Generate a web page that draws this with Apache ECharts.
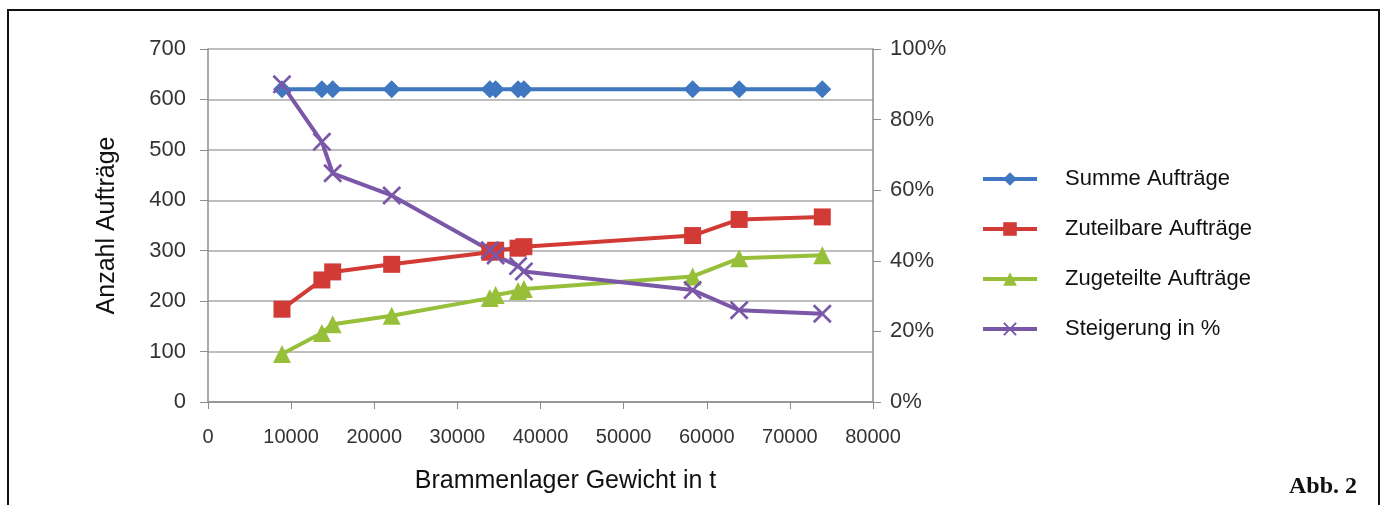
<!DOCTYPE html>
<html>
<head>
<meta charset="utf-8">
<script src="https://cdn.jsdelivr.net/npm/echarts@6/dist/echarts.min.js"></script>
<style>
  html, body { margin: 0; padding: 0; background: #fff; }
  #frame { position: absolute; left: 7px; top: 9px; width: 1373px; height: 520px;
           border: 2px solid #111; border-bottom: none; box-sizing: border-box; }
  #main { position: absolute; left: 0; top: 0; width: 1387px; height: 505px; }
  #abb { position: absolute; left: 1289px; top: 472px; font-family: "Liberation Serif", serif;
         font-size: 24px; font-weight: bold; color: #111; }
</style>
</head>
<body>
<div id="frame"></div>
<div id="main"></div>
<div id="abb">Abb. 2</div>
<script>
    // Brammenlager Gewicht in t
    var gewicht = [8900, 13700, 15000, 22100, 33900, 34600, 37300, 38000, 58300, 63900, 73900];
    var summe = [620, 620, 620, 620, 620, 620, 620, 620, 620, 620, 620];
    var zuteilbar = [184, 242, 258, 273, 297, 301, 305, 308, 330, 362, 367];
    var zugeteilt = [95, 137, 154, 171, 206, 212, 220, 224, 249, 285, 291];
    var steigerung = [0.90, 0.737, 0.648, 0.585, 0.43, 0.415, 0.385, 0.37, 0.317, 0.26, 0.25];
    var xTicks = [0, 10000, 20000, 30000, 40000, 50000, 60000, 70000, 80000];

    function pairs(ys) {
        return gewicht.map(function (x, i) { return [x, ys[i]]; });
    }

    var kreuz = 'path://M0,1 L1,0 L5,4 L9,0 L10,1 L6,5 L10,9 L9,10 L5,6 L1,10 L0,9 L4,5 Z';
    var font = 'Liberation Sans';

    var myChart = echarts.init(document.getElementById('main'));
    option = {
        animation: false,
        textStyle: { fontFamily: font },
        grid: { left: 208, right: 514, top: 49, bottom: 103 },
        legend: {
            orient: 'vertical',
            left: 976,
            top: 163,
            itemWidth: 54,
            itemHeight: 17,
            itemGap: 28,
            lineStyle: { width: 4 },
            textStyle: { fontFamily: font, fontSize: 22, color: '#111', padding: [0, 0, 0, 23] },
            data: ['Summe Aufträge', 'Zuteilbare Aufträge', 'Zugeteilte Aufträge', 'Steigerung in %']
        },
        xAxis: {
            type: 'value',
            min: 0,
            max: 80000,
            interval: 10000,
            name: 'Brammenlager Gewicht in t',
            nameLocation: 'middle',
            nameGap: 67,
            nameTextStyle: { fontSize: 25, color: '#111', padding: [0, 0, 0, 50] },
            axisLine: { lineStyle: { color: '#8c8c8c', width: 1.5 } },
            axisTick: { show: true, length: 7, lineStyle: { color: '#8c8c8c' } },
            axisLabel: {
                fontSize: 20, color: '#333', margin: 25,
                formatter: function (v) { return xTicks.indexOf(v) >= 0 ? String(v) : ''; }
            },
            splitLine: { show: false }
        },
        yAxis: [
            {
                type: 'value',
                min: 0,
                max: 700,
                interval: 100,
                name: 'Anzahl Aufträge',
                nameLocation: 'middle',
                nameGap: 88,
                nameTextStyle: { fontSize: 25, color: '#111' },
                axisLine: { show: true, lineStyle: { color: '#8c8c8c', width: 1.5 } },
                axisTick: { show: true, length: 8, lineStyle: { color: '#8c8c8c' } },
                axisLabel: { fontSize: 22, color: '#333', margin: 22 },
                splitLine: { lineStyle: { color: '#a8a8a8', width: 1.5 } }
            },
            {
                type: 'value',
                min: 0,
                max: 1,
                interval: 0.2,
                axisLine: { show: true, lineStyle: { color: '#8c8c8c', width: 1.5 } },
                axisTick: { show: true, length: 8, lineStyle: { color: '#8c8c8c' } },
                axisLabel: {
                    fontSize: 22, color: '#333', margin: 17,
                    formatter: function (v) { return Math.round(v * 100) + '%'; }
                },
                splitLine: { show: false }
            }
        ],
        series: [
            {
                name: 'Summe Aufträge',
                type: 'line',
                data: pairs(summe),
                symbol: 'diamond',
                symbolSize: 18,
                lineStyle: { width: 4, color: '#3f77c0' },
                itemStyle: { color: '#3f77c0' }
            },
            {
                name: 'Zuteilbare Aufträge',
                type: 'line',
                data: pairs(zuteilbar),
                symbol: 'rect',
                symbolSize: 17,
                lineStyle: { width: 4, color: '#d23a35' },
                itemStyle: { color: '#d23a35' }
            },
            {
                name: 'Zugeteilte Aufträge',
                type: 'line',
                data: pairs(zugeteilt),
                symbol: 'triangle',
                symbolSize: 18,
                lineStyle: { width: 4, color: '#97bf3a' },
                itemStyle: { color: '#97bf3a' }
            },
            {
                name: 'Steigerung in %',
                type: 'line',
                yAxisIndex: 1,
                data: pairs(steigerung),
                symbol: kreuz,
                symbolSize: 19,
                lineStyle: { width: 4, color: '#7b57a8' },
                itemStyle: { color: '#7b57a8' }
            }
        ]
    };
    myChart.setOption(option);
</script>
</body>
</html>
